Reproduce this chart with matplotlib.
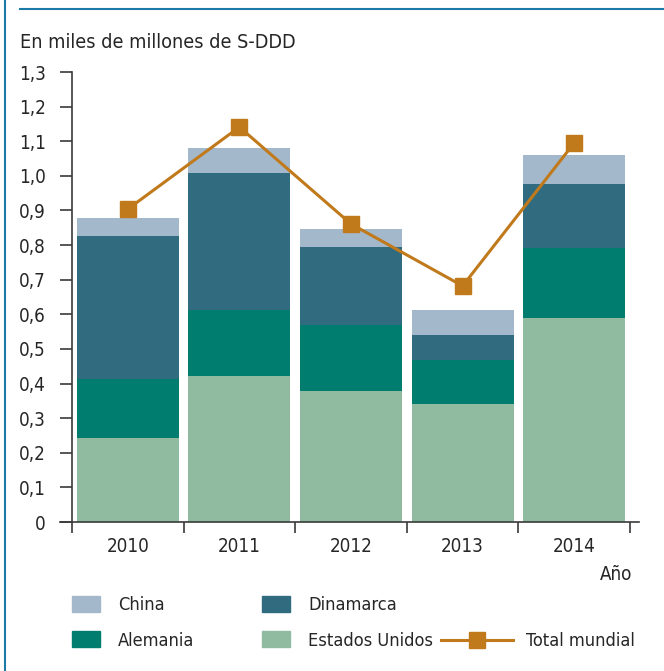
import matplotlib
matplotlib.use('Agg')
import matplotlib.pyplot as plt
from matplotlib.lines import Line2D
from matplotlib.patches import Patch
import numpy as np

plt.rcParams['font.family'] = ['DejaVu Sans']
plt.rcParams['font.stretch'] = 'condensed'

years = ['2010', '2011', '2012', '2013', '2014']
estados_unidos = [0.243, 0.422, 0.378, 0.341, 0.589]
alemania = [0.170, 0.190, 0.191, 0.127, 0.203]
dinamarca = [0.413, 0.396, 0.225, 0.072, 0.184]
china = [0.052, 0.072, 0.052, 0.072, 0.084]
total_mundial = [0.904, 1.141, 0.861, 0.682, 1.095]
yticks = [0, 0.1, 0.2, 0.3, 0.4, 0.5, 0.6, 0.7, 0.8, 0.9, 1.0, 1.1, 1.2, 1.3]

c_china = '#a4b8cb'
c_din = '#316b80'
c_ale = '#007d6e'
c_eu = '#91bba0'
c_tot = '#c17a1b'
c_txt = '#262626'
c_ax = '#3a3a3a'

W, H = 664, 671
fig = plt.figure(figsize=(W / 100, H / 100), dpi=100)
ax = fig.add_axes([72 / W, 1 - 522 / H, (630 - 72) / W, (522 - 72) / H])

x = np.arange(len(years))
bw = 0.914
b1 = np.array(estados_unidos)
b2 = b1 + np.array(alemania)
b3 = b2 + np.array(dinamarca)
ax.bar(x, estados_unidos, bw, color=c_eu, zorder=2)
ax.bar(x, alemania, bw, bottom=b1, color=c_ale, zorder=2)
ax.bar(x, dinamarca, bw, bottom=b2, color=c_din, zorder=2)
ax.bar(x, china, bw, bottom=b3, color=c_china, zorder=2)
ax.plot(x, total_mundial, color=c_tot, lw=2.2, marker='s', markersize=12,
        zorder=3, clip_on=False)

ax.set_xlim(-0.5, 4.5)
ax.set_ylim(0, 1.3)
for s in ['top', 'right']:
    ax.spines[s].set_visible(False)
for s in ['left', 'bottom']:
    ax.spines[s].set_color(c_ax)
    ax.spines[s].set_linewidth(1.2)
ax.spines['bottom'].set_bounds(-0.61, 4.58)

ax.set_yticks(yticks)
ax.set_yticklabels([('%.1f' % v).replace('.', ',') if v else '0' for v in yticks])
ax.tick_params(axis='y', length=9, width=1.2, color=c_ax, pad=10,
               labelsize=13.5, labelcolor=c_txt)

ax.set_xticks(np.arange(-0.5, 5, 1))
ax.set_xticklabels([])
ax.set_xticks(x, minor=True)
ax.set_xticklabels(years, minor=True)
ax.tick_params(axis='x', which='major', length=8, width=1.2, color=c_ax)
ax.tick_params(axis='x', which='minor', length=0, pad=11,
               labelsize=13.5, labelcolor=c_txt)

fig.text(20 / W, 1 - 42 / H, 'En miles de millones de S-DDD', fontsize=14.2,
         color=c_txt, ha='left', va='center')
fig.text(632 / W, 1 - 574 / H, 'Año', fontsize=13.5, color=c_txt,
         ha='right', va='center')

# legend in three blocks
fs_leg = 13.1
common = dict(frameon=False, borderpad=0, borderaxespad=0, fontsize=fs_leg,
              labelcolor=c_txt, handleheight=0.99, labelspacing=0.93)
h1 = [Patch(color=c_china), Patch(color=c_ale)]
fig.legend(h1, ['China', 'Alemania'], loc='upper left',
           bbox_to_anchor=(72 / W, 1 - 596 / H), handlelength=1.55,
           handletextpad=0.99, **common)
h2 = [Patch(color=c_din), Patch(color=c_eu)]
fig.legend(h2, ['Dinamarca', 'Estados Unidos'], loc='upper left',
           bbox_to_anchor=(262 / W, 1 - 596 / H), handlelength=1.55,
           handletextpad=0.99, **common)
h3 = [Line2D([], [], color=c_tot, lw=2.2, marker='s', markersize=12)]
fig.legend(h3, ['Total mundial'], loc='center left',
           bbox_to_anchor=(441 / W, 1 - 641 / H), handlelength=3.95,
           handletextpad=0.72, frameon=False, borderpad=0, borderaxespad=0,
           fontsize=fs_leg, labelcolor=c_txt)

# frame lines
fig.add_artist(Line2D([5 / W, 5 / W], [0, 1], color='#1b7ba6', lw=1.5))
fig.add_artist(Line2D([20 / W, 1], [1 - 9 / H, 1 - 9 / H], color='#1b7ba6', lw=1.5))

fig.savefig('out.png', dpi=100)
